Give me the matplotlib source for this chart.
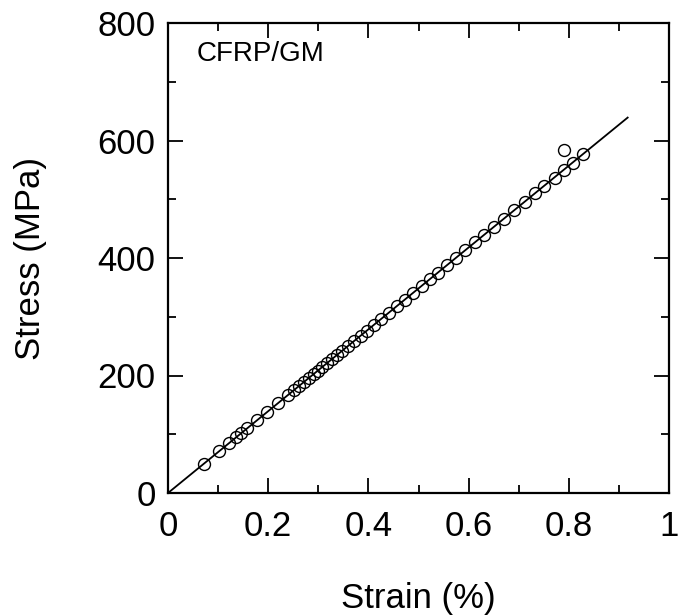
import matplotlib
matplotlib.use("Agg")
import matplotlib.pyplot as plt
from matplotlib.ticker import MultipleLocator

plt.rcParams['font.family'] = ['Liberation Sans', 'DejaVu Sans']

strain = [0.072, 0.102, 0.122, 0.136, 0.146, 0.158, 0.178, 0.198, 0.220, 0.240,
          0.251, 0.261, 0.271, 0.281, 0.291, 0.299, 0.307, 0.317, 0.327, 0.337,
          0.347, 0.359, 0.371, 0.385, 0.397, 0.411, 0.425, 0.441, 0.457, 0.473,
          0.489, 0.507, 0.523, 0.539, 0.557, 0.575, 0.593, 0.613, 0.631, 0.651,
          0.671, 0.691, 0.713, 0.733, 0.750, 0.772, 0.790, 0.808, 0.828, 0.790]
stress = [50, 71, 85, 95, 102, 110, 124, 138, 153, 167,
          175, 182, 189, 196, 203, 208, 214, 221, 228, 235,
          242, 250, 258, 268, 276, 286, 296, 307, 318, 329,
          340, 353, 364, 375, 388, 400, 413, 427, 439, 453,
          467, 481, 496, 510, 522, 537, 550, 562, 577, 583]

fit_strain = [0.0, 0.9175]
fit_stress = [0.0, 639.0]

xtick_vals = [0, 0.2, 0.4, 0.6, 0.8, 1.0]
xtick_labels = ['0', '0.2', '0.4', '0.6', '0.8', '1']

fig = plt.figure(figsize=(6.79, 6.15), dpi=100)
ax = fig.add_axes([168/679, 1-493/615, (669-168)/679, (493-23)/615])

ax.plot(fit_strain, fit_stress, color='black', lw=1.3, zorder=2)
ax.plot(strain, stress, linestyle='none', marker='o', ms=8.6, mfc='none',
        mec='black', mew=1.0, zorder=3)

ax.set_xlim(0, 1)
ax.set_ylim(0, 800)
ax.set_xticks(xtick_vals)
ax.set_xticklabels(xtick_labels)
ax.xaxis.set_minor_locator(MultipleLocator(0.1))
ax.yaxis.set_major_locator(MultipleLocator(200))
ax.yaxis.set_minor_locator(MultipleLocator(100))

ax.tick_params(which='both', direction='in', top=True, right=True,
               labelsize=25, width=1.3)
ax.tick_params(axis='x', pad=12)
ax.tick_params(axis='y', pad=9)
ax.tick_params(which='major', length=11)
ax.tick_params(which='minor', length=6)
for s in ax.spines.values():
    s.set_linewidth(1.6)

ax.set_xlabel('Strain (%)', fontsize=25, labelpad=28)
ax.set_ylabel('Stress (MPa)', fontsize=25, va='center')
ax.yaxis.set_label_coords(-(168 - 31) / 501, 0.5)

ax.text(0.058, 0.935, 'CFRP/GM', transform=ax.transAxes, fontsize=20,
        ha='left', va='center')

fig.savefig('out.png', dpi=100)
